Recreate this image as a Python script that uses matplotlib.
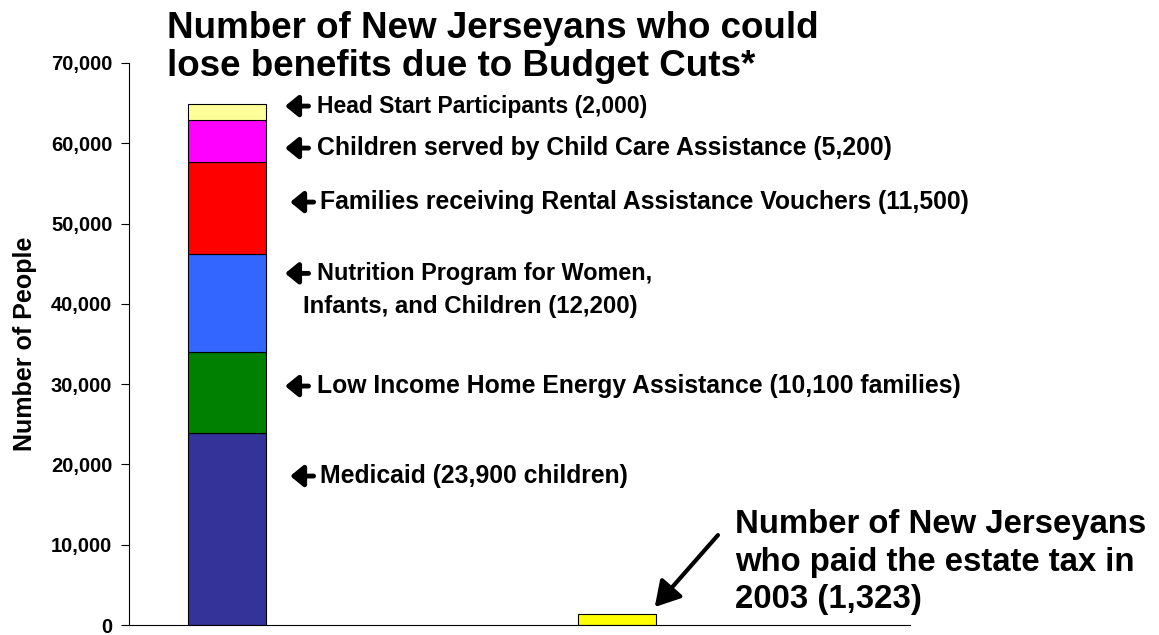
import matplotlib
matplotlib.use("Agg")
import matplotlib.pyplot as plt
import numpy as np

plt.rcParams['font.family'] = ['Liberation Sans', 'DejaVu Sans']
plt.rcParams['font.weight'] = 'bold'

# stacked programs (bottom to top)
programs = ['Medicaid (23,900 children)',
            'Low Income Home Energy Assistance (10,100 families)',
            'Nutrition Program for Women,\nInfants, and Children (12,200)',
            'Families receiving Rental Assistance Vouchers (11,500)',
            'Children served by Child Care Assistance (5,200)',
            'Head Start Participants (2,000)']
values = [23900, 10100, 12200, 11500, 5200, 2000]
colors = ['#333399', '#008000', '#3366FF', '#FF0000', '#FF00FF', '#FFFF99']
estate_tax = 1323

fig = plt.figure(figsize=(11.59, 6.35), dpi=100)
ax = fig.add_axes([0.1113, 0.0157, 0.6735, 0.8851])

bottom = 0
for v, c in zip(values, colors):
    ax.bar(0, v, width=0.2, bottom=bottom, color=c, edgecolor='black', linewidth=0.8)
    bottom += v
ax.bar(1, estate_tax, width=0.2, color='#FFFF00', edgecolor='black', linewidth=0.8)

# label placement: arrow start x, text x, text y (data units), font size
arrow_x = [0.163, 0.150, 0.150, 0.163, 0.150, 0.150]
text_x = [0.239, 0.232, 0.232, 0.239, 0.232, 0.232]
text_y = [18555, 29763, 43800, 52677, 59402, 64633]
sizes = [17.8, 17.8, 16.8, 17.8, 17.8, 16.5]
line_h = 4100
for name, ax0, tx, ty, fs in zip(programs, arrow_x, text_x, text_y, sizes):
    ax.annotate('', xy=(ax0, ty), xytext=(ax0 + 0.06, ty),
                arrowprops=dict(arrowstyle='-|>,head_length=0.55,head_width=0.45',
                                color='black', lw=3.5, mutation_scale=14,
                                shrinkA=0, shrinkB=0))
    lines = name.split('\n')
    ax.text(tx, ty, lines[0], fontsize=fs, fontweight='bold', va='center', ha='left')
    for i, ln in enumerate(lines[1:], 1):
        ax.text(tx - 0.037, ty - i * line_h, ln, fontsize=fs + 0.5, fontweight='bold',
                va='center', ha='left')

ax.set_xlim(-0.25, 1.75)
ax.set_ylim(0, 70000)
ax.set_yticks(np.arange(0, 70001, 10000))
ax.set_yticklabels([f'{t:,}' for t in range(0, 70001, 10000)], fontsize=14.5, fontweight='bold')
ax.set_xticks([])
ax.spines['top'].set_visible(False)
ax.spines['right'].set_visible(False)
ax.tick_params(axis='y', length=6, direction='out', pad=6)
ax.set_ylabel('Number of People', fontsize=18, fontweight='bold', labelpad=10)

fig.text(0.144, 0.925, 'Number of New Jerseyans who could\nlose benefits due to Budget Cuts*',
         fontsize=26.5, fontweight='bold', va='center', ha='left', linespacing=1.13)

ax.annotate('', xy=(1.097, 2240), xytext=(1.259, 11200),
            arrowprops=dict(arrowstyle='-|>,head_length=0.6,head_width=0.35',
                            color='black', lw=3, mutation_scale=25, shrinkA=0, shrinkB=0))
ax.text(1.302, 7845, 'Number of New Jerseyans\nwho paid the estate tax in\n2003 (1,323)',
        fontsize=23.7, fontweight='bold', va='center', ha='left', linespacing=1.26)

fig.savefig('out.png', dpi=100)
